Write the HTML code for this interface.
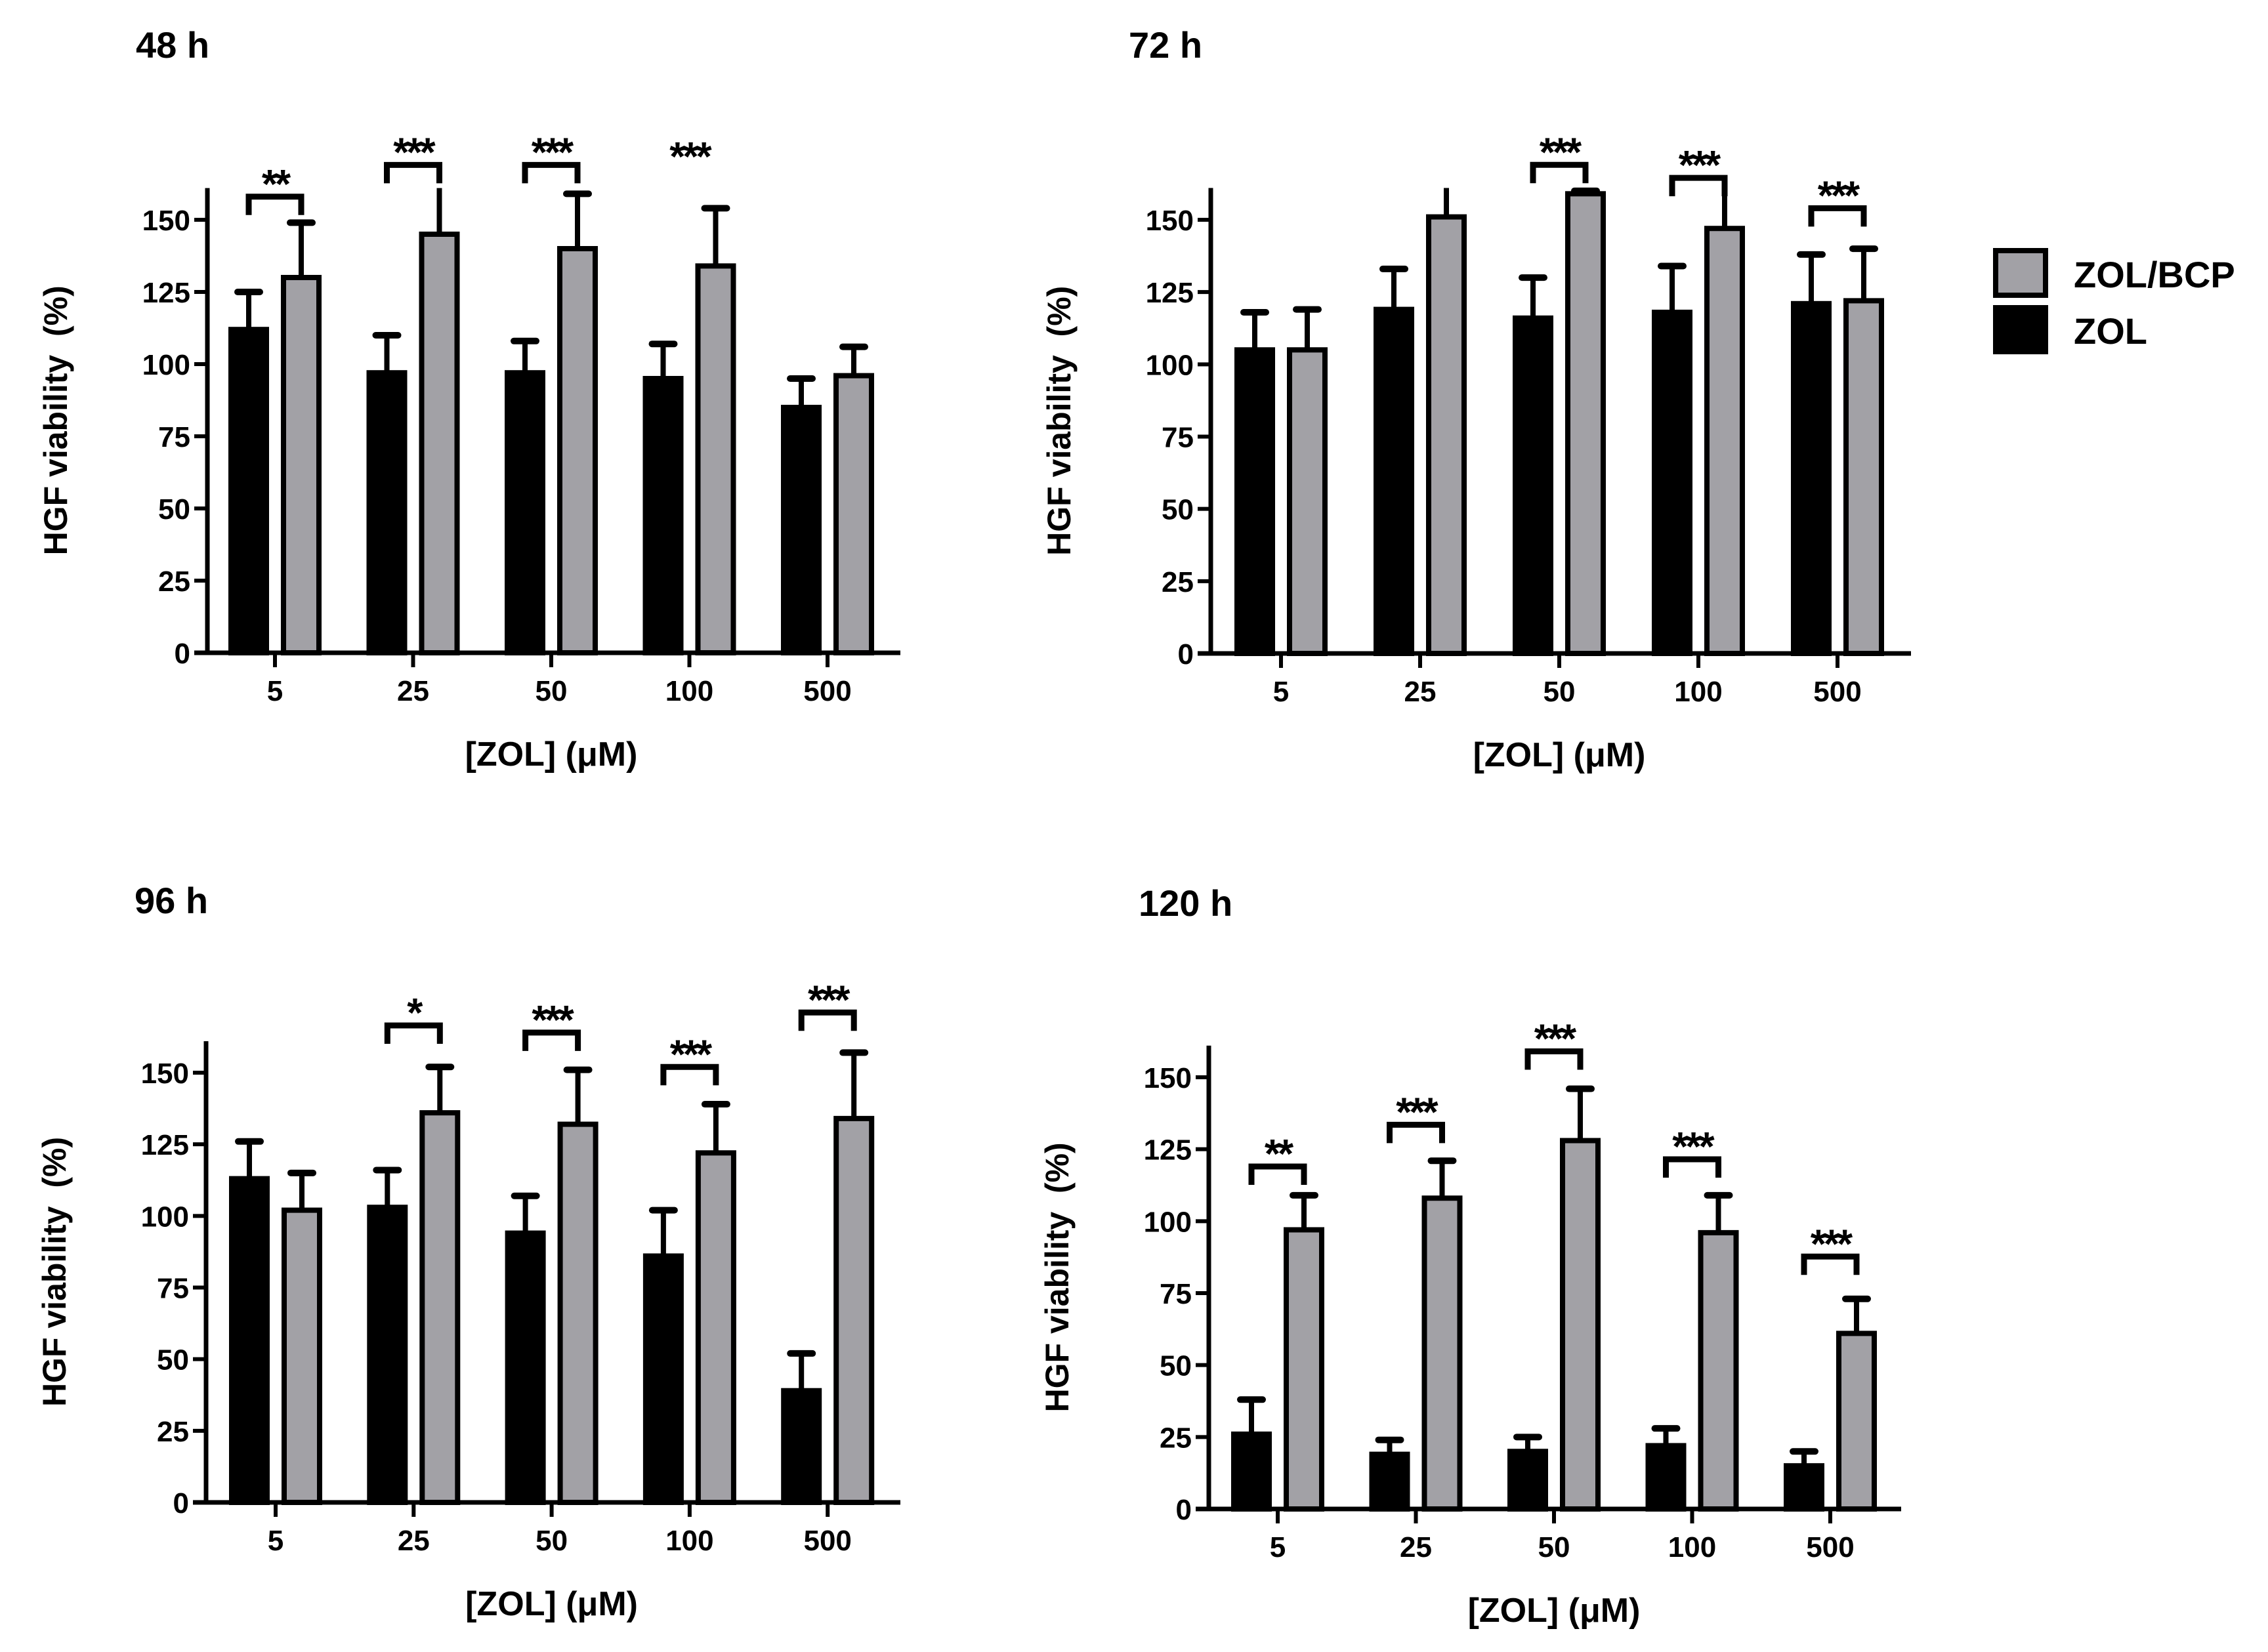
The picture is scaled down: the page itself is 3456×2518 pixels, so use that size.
<!DOCTYPE html>
<html><head><meta charset="utf-8">
<style>
html,body{margin:0;padding:0;background:#fff;}
svg{display:block;font-family:"Liberation Sans",sans-serif;font-weight:bold;}
</style></head>
<body>
<svg id="chart" width="3456" height="2518" viewBox="0 0 3456 2518" xmlns="http://www.w3.org/2000/svg">
  <rect x="0" y="0" width="3456" height="2518" fill="#fff"/>
  <g>
    <rect x="3041" y="382" width="76" height="68" fill="#a2a1a6" stroke="#000" stroke-width="8"/>
    <rect x="3037" y="465" width="84" height="75" fill="#000"/>
    <text x="3160" y="438" font-size="56">ZOL/BCP</text>
    <text x="3160" y="524" font-size="56">ZOL</text>
  </g>
</svg>
<script>
const categories = ["5","25","50","100","500"];
const yTicks = [0,25,50,75,100,125,150];

const zol48 = [112,97,97,95,85];
const zol48Sd = [13,13,11,12,10];
const bcp48 = [130,145,140,134,96];
const bcp48Sd = [19,16,19,20,10];
const sig48 = ["**","***","***","***",""];
const sigH48 = [158,169,169,173,0];
const bracket48 = [true,true,true,false,false];

const zol72 = [105,119,116,118,121];
const zol72Sd = [13,14,14,16,17];
const bcp72 = [105,151,159,147,122];
const bcp72Sd = [14,12,1,17,18];
const sig72 = ["","","***","***","***"];
const sigH72 = [0,0,169,164.5,154];
const bracket72 = [false,false,true,true,true];

const zol96 = [113,103,94,86,39];
const zol96Sd = [13,13,13,16,13];
const bcp96 = [102,136,132,122,134];
const bcp96Sd = [13,16,19,17,23];
const sig96 = ["","*","***","***","***"];
const sigH96 = [0,166.5,164,152,171];
const bracket96 = [false,true,true,true,true];

const zol120 = [26,19,20,22,15];
const zol120Sd = [12,5,5,6,5];
const bcp120 = [97,108,128,96,61];
const bcp120Sd = [12,13,18,13,12];
const sig120 = ["**","***","***","***","***"];
const sigH120 = [119,133.5,159,121.5,87.7];
const bracket120 = [true,true,true,true,true];

const NS = "http://www.w3.org/2000/svg";
const svg = document.getElementById("chart");
function mk(tag, attrs, parent){
  const e = document.createElementNS(NS, tag);
  for (const k in attrs) e.setAttribute(k, attrs[k]);
  parent.appendChild(e);
  return e;
}

function panel(id, title, L, zol, zolSd, bcp, bcpSd, sig, sigH, br){
  const g = mk("g", {}, svg);
  
  
  const yScale = v => L.y0 - (v / 150) * (L.y0 - L.y150);
  const xScale = i => L.c0 + i * L.dc;
  const yMax = 161;

  const t = mk("text", {x: L.tx, y: L.ty, "font-size": 56}, g);
  t.textContent = title;
  
  

  for (let i = 0; i < categories.length; i++){
    const c = xScale(i);
    const series = [[zol[i], zolSd[i], c - 40, "#000", "zol"], [bcp[i], bcpSd[i], c + 40, "#a2a1a6", "bcp"]];
    for (const s of series){
      const [v, sd, cx, fill, nm] = s;
      const yt = yScale(v);
      const errTop = yScale(Math.min(v + sd, yMax));
      const el = mk("line", {x1: cx, x2: cx, y1: yt, y2: errTop, stroke: "#000", "stroke-width": 8}, g);
      
      
      if (v + sd < yMax){
        const cap = mk("line", {x1: cx - 17, x2: cx + 17, y1: errTop, y2: errTop, stroke: "#000", "stroke-width": 10, "stroke-linecap": "round"}, g);
        
        
      }
      const r = mk("rect", {x: cx - 27, y: yt, width: 54, height: L.y0 - yt, fill: fill, stroke: "#000", "stroke-width": 8}, g);
      
      
    }
    if (sig[i]){
      const yb = yScale(sigH[i]);
      if (br[i]){
        const p = mk("path", {d: `M${c-40},${yb+28} V${yb} H${c+40} V${yb+28}`, fill: "none", stroke: "#000", "stroke-width": 9}, g);
        
        
      }
      const st = mk("text", {x: c, y: (br[i] ? yb + 2 : yb + 26), "font-size": 62, "text-anchor": "middle", "letter-spacing": "-4"}, g);
      st.textContent = sig[i];
      
      
    }
  }

  const ya = mk("line", {x1: L.ax, x2: L.ax, y1: yScale(yMax), y2: L.y0 + 3, stroke: "#000", "stroke-width": 7}, g);
  
  
  const xa = mk("line", {x1: L.ax - 20, x2: L.xEnd, y1: L.y0, y2: L.y0, stroke: "#000", "stroke-width": 7}, g);
  
  

  for (const v of yTicks){
    const y = yScale(v);
    const tk = mk("line", {x1: L.ax - 20, x2: L.ax, y1: y, y2: y, stroke: "#000", "stroke-width": 6}, g);
    
    
    const tl = mk("text", {x: L.ax - 26, y: y + 16, "font-size": 44, "text-anchor": "end"}, g);
    tl.textContent = v;
    
    
  }
  for (let i = 0; i < categories.length; i++){
    const x = xScale(i);
    const tk = mk("line", {x1: x, x2: x, y1: L.y0, y2: L.y0 + 22, stroke: "#000", "stroke-width": 6}, g);
    
    
    const tl = mk("text", {x: x, y: L.y0 + 73, "font-size": 44, "text-anchor": "middle"}, g);
    tl.textContent = categories[i];
    
    
  }
  const xt = mk("text", {x: xScale(2), y: L.y0 + 172, "font-size": 52, "text-anchor": "middle"}, g);
  xt.textContent = "[ZOL] (\u03bcM)";
  
  
  const yc = (yScale(yMax) + L.y0) / 2;
  const yt = mk("text", {x: 0, y: 0, "font-size": 50, "text-anchor": "middle", "xml:space": "preserve", transform: `translate(${L.ax - 214},${yc}) rotate(-90)`}, g);
  yt.textContent = "HGF viability\u00a0\u00a0(%)";
  
  
}

panel("48h", "48 h", {ax:316, y0:995, y150:335, xEnd:1372, c0:419, dc:210.5, tx:207, ty:88}, zol48, zol48Sd, bcp48, bcp48Sd, sig48, sigH48, bracket48);
panel("72h", "72 h", {ax:1845, y0:996, y150:335, xEnd:2912, c0:1952, dc:212, tx:1720, ty:88}, zol72, zol72Sd, bcp72, bcp72Sd, sig72, sigH72, bracket72);
panel("96h", "96 h", {ax:314, y0:2290, y150:1635, xEnd:1372, c0:420, dc:210.3, tx:205, ty:1392}, zol96, zol96Sd, bcp96, bcp96Sd, sig96, sigH96, bracket96);
panel("120h", "120 h", {ax:1842, y0:2300, y150:1642, xEnd:2897, c0:1947, dc:210.5, tx:1735, ty:1396}, zol120, zol120Sd, bcp120, bcp120Sd, sig120, sigH120, bracket120);
</script>
</body></html>
